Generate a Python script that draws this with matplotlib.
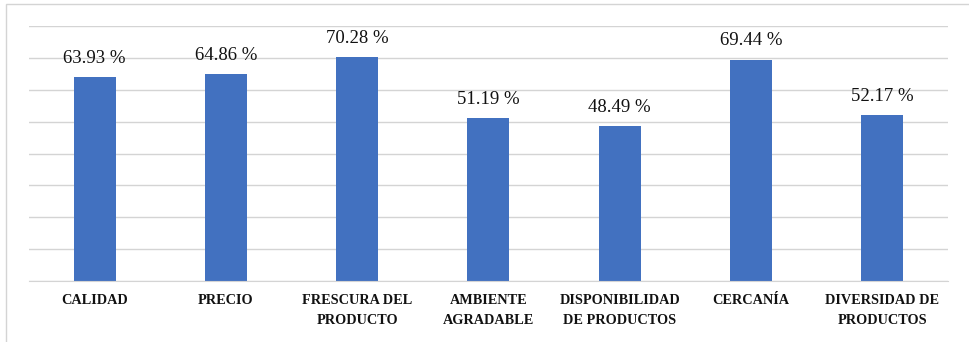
import matplotlib.pyplot as plt
from matplotlib.patches import Rectangle

categories = ["CALIDAD", "PRECIO", "FRESCURA DEL\nPRODUCTO", "AMBIENTE\nAGRADABLE",
              "DISPONIBILIDAD\nDE PRODUCTOS", "CERCANÍA", "DIVERSIDAD DE\nPRODUCTOS"]
values = [63.93, 64.86, 70.28, 51.19, 48.49, 69.44, 52.17]
value_labels = ["63.93 %", "64.86 %", "70.28 %", "51.19 %", "48.49 %", "69.44 %", "52.17 %"]

plt.rcParams['font.family'] = ['Liberation Serif', 'DejaVu Serif']

fig = plt.figure(figsize=(9.7, 3.42), dpi=100)
ax = fig.add_axes([0.030, 0.178, 0.947, 0.746])

x = range(len(categories))
bars = ax.bar(x, values, width=0.32, color='#4271c0', zorder=3)

for xi, v, lab in zip(x, values, value_labels):
    ax.text(xi, v + 3.2, lab, ha='center', va='bottom', fontsize=13.5, color='#111111')

ax.set_ylim(0, 80)
ax.set_xlim(-0.5, len(categories) - 0.5)
ax.set_yticks(range(0, 81, 10))
ax.yaxis.grid(True, color='#d4d4d4', linewidth=1, zorder=0)
ax.tick_params(axis='y', left=False, labelleft=False)
ax.tick_params(axis='x', bottom=False, pad=6)
ax.set_xticks(list(x))
ax.set_xticklabels(categories, fontsize=10.3, fontweight='bold', color='#111111',
                   linespacing=1.65)
for s in ['top', 'right', 'left']:
    ax.spines[s].set_visible(False)
ax.spines['bottom'].set_color('#d4d4d4')
ax.spines['bottom'].set_zorder(4)

# outer chart frame
fig.patches.append(Rectangle((6 / 970, -0.1), 1.1, 1 - 4 / 342 + 0.1,
                             transform=fig.transFigure, fill=False,
                             edgecolor='#d4d4d4', linewidth=1))

fig.savefig('out.png', dpi=100)
